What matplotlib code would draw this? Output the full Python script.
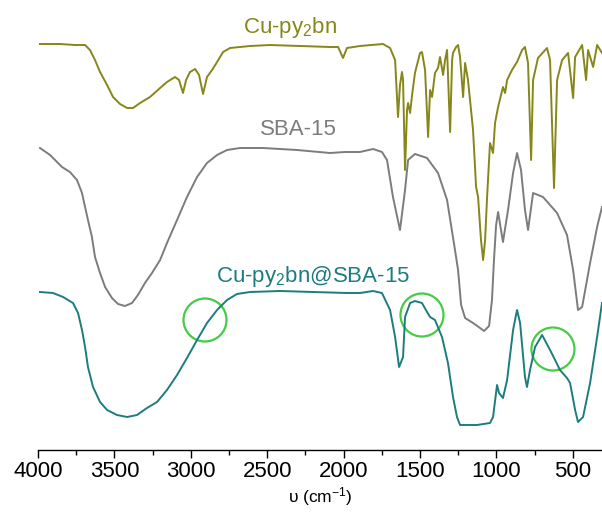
import matplotlib
matplotlib.use("Agg")
import matplotlib.pyplot as plt
from matplotlib.patches import Ellipse
from matplotlib.ticker import MultipleLocator

plt.rcParams['font.family'] = ['Liberation Sans', 'DejaVu Sans']
plt.rcParams['mathtext.fontset'] = 'custom'
plt.rcParams['mathtext.rm'] = 'Liberation Sans'
plt.rcParams['mathtext.it'] = 'Liberation Sans:italic'

# Cu-py2bn complex (stacked, a.u.)
wn_cu = [3987, 3856, 3758, 3692, 3660, 3627, 3594, 3548, 3509, 3463,
         3417, 3378, 3332, 3267, 3201, 3156, 3103, 3077, 3051, 3031,
         3005, 2972, 2946, 2920, 2894, 2861, 2828, 2789, 2743, 2612,
         2482, 2285, 2089, 2036, 2004, 1978, 1893, 1742, 1696, 1663,
         1644, 1631, 1618, 1611, 1598, 1585, 1578, 1565, 1552, 1533,
         1500, 1487, 1467, 1447, 1434, 1421, 1402, 1382, 1369, 1349,
         1336, 1323, 1303, 1290, 1284, 1264, 1251, 1238, 1218, 1205,
         1186, 1166, 1153, 1133, 1120, 1101, 1087, 1074, 1061, 1042,
         1022, 1009, 989, 957, 943, 930, 898, 865, 832, 813,
         793, 773, 760, 728, 669, 649, 623, 603, 570, 531,
         498, 485, 439, 413, 400, 367, 341, 309]
int_cu = [406, 406, 405, 405, 400, 390, 378, 365, 353, 346,
          342, 342, 347, 353, 362, 368, 373, 370, 357, 370,
          378, 381, 375, 356, 373, 380, 388, 398, 402, 404,
          405, 404, 403, 403, 392, 402, 404, 406, 402, 390,
          333, 365, 378, 370, 280, 340, 347, 337, 355, 377,
          397, 398, 380, 313, 360, 353, 377, 382, 393, 375,
          390, 400, 318, 390, 397, 403, 405, 393, 353, 387,
          370, 340, 320, 263, 253, 210, 190, 210, 253, 307,
          297, 327, 343, 363, 357, 370, 380, 388, 400, 403,
          387, 290, 370, 392, 402, 390, 262, 370, 390, 397,
          352, 393, 405, 370, 400, 383, 405, 397]

# SBA-15 support
wn_sba = [3987, 3921, 3843, 3791, 3745, 3712, 3692, 3673, 3647, 3627,
          3594, 3561, 3516, 3476, 3431, 3385, 3346, 3300, 3254, 3201,
          3156, 3090, 3025, 2959, 2894, 2828, 2763, 2678, 2527, 2305,
          2089, 1991, 1893, 1807, 1749, 1716, 1677, 1631, 1598, 1578,
          1533, 1454, 1382, 1323, 1271, 1251, 1231, 1205, 1153, 1107,
          1081, 1048, 1029, 1016, 1002, 989, 957, 924, 891, 865,
          839, 813, 793, 760, 695, 603, 538, 498, 466, 439,
          387, 341, 309]
int_sba = [302, 295, 283, 278, 270, 257, 243, 230, 213, 193,
           177, 163, 152, 146, 144, 147, 155, 167, 177, 190,
           207, 230, 253, 273, 287, 295, 300, 302, 302, 300,
           297, 298, 298, 301, 298, 290, 253, 220, 260, 290,
           296, 292, 277, 250, 200, 180, 145, 132, 127, 122,
           119, 124, 150, 190, 225, 238, 208, 240, 277, 297,
           280, 240, 220, 257, 253, 237, 215, 180, 140, 143,
           187, 223, 243]

# Cu-py2bn@SBA-15 hybrid
wn_hyb = [3987, 3902, 3836, 3771, 3738, 3712, 3692, 3673, 3640, 3594,
          3548, 3483, 3417, 3352, 3287, 3221, 3156, 3090, 3025, 2959,
          2894, 2828, 2763, 2698, 2612, 2416, 2200, 1978, 1893, 1807,
          1749, 1696, 1663, 1637, 1611, 1598, 1565, 1533, 1487, 1454,
          1434, 1402, 1356, 1317, 1284, 1258, 1238, 1127, 1042, 1022,
          996, 983, 957, 930, 891, 865, 845, 813, 800, 780,
          747, 701, 649, 616, 584, 538, 518, 485, 466, 433,
          387, 341, 309]
int_hyb = [158, 157, 153, 147, 137, 120, 103, 83, 63, 48,
           40, 35, 33, 35, 42, 48, 60, 75, 92, 110,
           127, 140, 150, 156, 158, 159, 158, 157, 157, 159,
           157, 140, 113, 83, 93, 133, 147, 149, 147, 138,
           133, 130, 113, 87, 53, 33, 25, 25, 27, 33,
           65, 57, 52, 70, 120, 140, 127, 73, 63, 80,
           103, 115, 100, 90, 80, 72, 67, 40, 28, 33,
           67, 113, 147]

# highlighted regions (wavenumber, intensity)
circle_wn = [2907, 1487, 630]
circle_int = [130, 135, 101]

c_cu = '#86861a'
c_sba = '#7c7c7c'
c_hyb = '#1d7c7e'
c_circ = '#45cc45'

fig = plt.figure(figsize=(6.02, 5.14), dpi=100)
ax = fig.add_axes([38/602, 64/514, 564/602, 450/514])

ax.plot(wn_cu, int_cu, color=c_cu, lw=1.4)
ax.plot(wn_sba, int_sba, color=c_sba, lw=1.4)
ax.plot(wn_hyb, int_hyb, color=c_hyb, lw=1.4)

for cx, cy in zip(circle_wn, circle_int):
    ax.add_patch(Ellipse((cx, cy), 2*21.5*6.545, 43, fill=False,
                         edgecolor=c_circ, lw=1.6))

ax.text(2351, 417, 'Cu-py$_2$bn', color=c_cu, fontsize=16, ha='center', va='baseline')
ax.text(2298, 315, 'SBA-15', color=c_sba, fontsize=16, ha='center', va='baseline')
ax.text(2200, 168, 'Cu-py$_2$bn@SBA-15', color=c_hyb, fontsize=16, ha='center', va='baseline')

ax.set_xlim(4000, 309)
ax.set_ylim(0, 450)
ax.xaxis.set_major_locator(MultipleLocator(500))
ax.xaxis.set_minor_locator(MultipleLocator(250))
ax.tick_params(axis='x', which='major', length=6, width=1, labelsize=16, pad=2)
ax.tick_params(axis='x', which='minor', length=3.5, width=1)
ax.set_yticks([])
for s in ['left', 'top', 'right']:
    ax.spines[s].set_visible(False)
ax.spines['bottom'].set_linewidth(1)
ax.set_xlabel('υ (cm$^{-1}$)', fontsize=12.5, labelpad=2)

fig.savefig('out.png', dpi=100)
